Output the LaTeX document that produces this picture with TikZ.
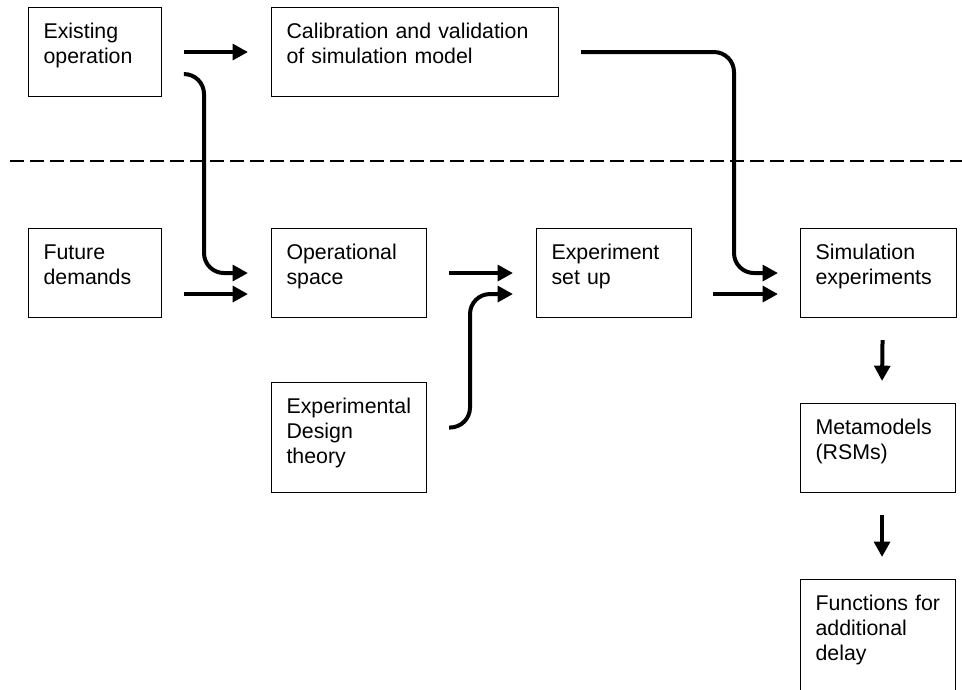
\documentclass[tikz,border=0pt]{standalone}
\usepackage{fontspec}
\setmainfont{Liberation Sans}
\usetikzlibrary{arrows.meta, calc}

\begin{document}
\begin{tikzpicture}[
  x=0.75pt, y=-0.75pt,
  box/.style={rectangle, draw, line width=0.8pt, anchor=north west, align=left,
    inner xsep=11.25pt, inner ysep=11.75pt, text height=11.5pt, text depth=31.75pt,
    text width=93.75pt, font=\fontsize{16}{18.75}\selectfont},
  arrow/.style={line width=3pt, -{Triangle[length=11.5pt, width=11.75pt]}},
  divider/.style={line width=1.1pt, dash pattern=on 10.5pt off 4.5pt}
]
  \useasboundingbox (0,0) rectangle (962,689);

  \node[box, text width=77.25pt] (exist) at (28,7) {Existing\\operation};
  \node[box, text width=192.75pt] (calib) at (271,7) {Calibration and validation\\of simulation model};

  \node[box, text width=77.25pt] (future) at (28,228) {Future\\demands};
  \node[box] (opspace) at (271,228) {Operational\\space};
  \node[box] (expsetup) at (536,228) {Experiment\\set up};
  \node[box, text width=94.5pt] (simexp) at (800,228) {Simulation\\experiments};

  \node[box, text depth=47.5pt] (design) at (271,382) {Experimental\\Design\\theory};
  \node[box] (meta) at (800,403) {Metamodels\\(RSMs)};
  \node[box, text depth=77.5pt] (delay) at (800,579) {Functions for\\additional\\delay};

  \draw[divider] (10,161) -- (962,161);

  \draw[arrow, shorten <=16.5pt, shorten >=17.25pt] (exist) -- (calib);
  \draw[arrow, rounded corners=15pt] ([shift={(22,22)}]exist.east) -| ([shift={(-67,0)}]opspace.west) -- ([shift={(-23,0)}]opspace.west);
  \draw[arrow] ([shift={(22,21)}]future.east) -- ([shift={(-23,21)}]opspace.west);

  \draw[arrow, shorten <=16.5pt, shorten >=17.25pt] (opspace) -- (expsetup);
  \draw[arrow, rounded corners=15pt] ([shift={(22,-10)}]design.east) -| ([shift={(-66,21)}]expsetup.west) -- ([shift={(-23,21)}]expsetup.west);

  \draw[arrow, rounded corners=15pt] ([shift={(22,0)}]calib.east) -| ([shift={(-66,0)}]simexp.west) -- ([shift={(-22,0)}]simexp.west);
  \draw[arrow] ([shift={(21,21)}]expsetup.east) -- ([shift={(-22,21)}]simexp.west);

  \draw[arrow] ([shift={(4,22)}]simexp.south) -- ([shift={(4,-22)}]meta.north);
  \draw[arrow] ([shift={(4,22)}]meta.south) -- ([shift={(4,-22)}]delay.north);
\end{tikzpicture}
\end{document}
